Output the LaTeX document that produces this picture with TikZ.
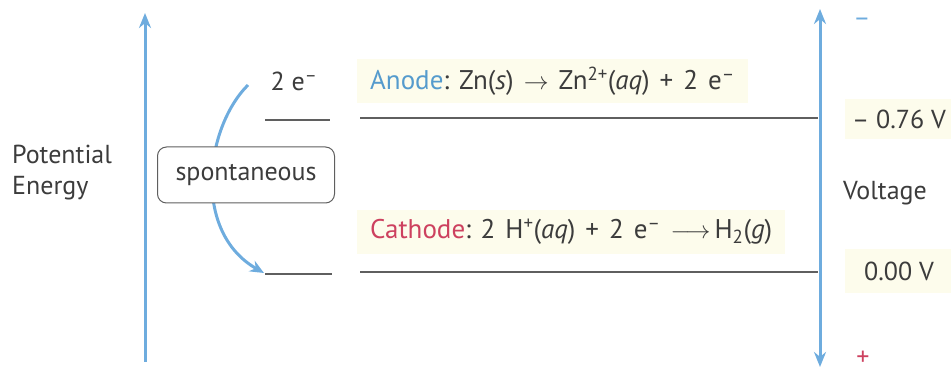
\documentclass[tikz,border=0pt]{standalone}
\usepackage{fontspec}
\setmainfont{PT Sans}
\usetikzlibrary{arrows.meta}
\definecolor{axisblue}{RGB}{110,172,222}
\definecolor{txtgray}{RGB}{60,60,60}
\definecolor{linegray}{RGB}{95,95,95}
\definecolor{anodeblue}{RGB}{85,155,205}
\definecolor{cathred}{RGB}{205,65,95}
\definecolor{paleyellow}{RGB}{253,252,236}
\tikzset{
  axis/.style={draw=axisblue, line width=3pt},
  level/.style={draw=linegray, line width=1.4pt},
  hilite/.style={fill=paleyellow, inner xsep=13pt, minimum height=44pt, font=\fontsize{27}{31}\selectfont},
  tagbox/.style={draw=linegray, line width=1pt, fill=white, rounded corners=9pt, minimum width=177pt, minimum height=56pt},
  bigtip/.tip={Stealth[length=15pt,width=12pt]}
}
\newcommand{\sub}[1]{\textsubscript{#1}}
\newcommand{\sps}[1]{\textsuperscript{#1}}
\newcommand{\gp}{\hspace{10pt}}
\begin{document}
\begin{tikzpicture}[x=1pt,y=-1pt, font=\fontsize{26}{31}\selectfont, text=txtgray]
\useasboundingbox (0,0) rectangle (951,371);
% highlight boxes with equations
\node[hilite, anchor=west] (anode) at (357,81) {\textcolor{anodeblue}{Anode}: Zn(\textit{s})\gp$\rightarrow$\gp{}Zn\sps{2+}(\textit{aq})\gp{}+\gp{}2\gp{}e\sps{–}};
\node[hilite, anchor=west] (cathode) at (357,232) {\textcolor{cathred}{Cathode}: 2\gp{}H\sps{+}(\textit{aq})\gp{}+\gp{}2\gp{}e\sps{–}\gp$\longrightarrow$\hspace{4pt}H\sub{2}(\textit{g})};
\node[fill=paleyellow, minimum width=108pt, minimum height=40pt] (v1) at (899,119) {– 0.76 V};
\node[fill=paleyellow, minimum width=108pt, minimum height=44pt] (v2) at (899,271) {0.00 V};
\node (volt) at (885,193) {Voltage};
\node[text=axisblue] (minus) at (862,22) {–};
\node[text=cathred] (plus) at (863,358) {+};
% left text
\node[anchor=west, align=left, inner sep=0pt] (pe) at (12,173) {Potential\\Energy};
% axes
\coordinate (lb) at (145,362);
\coordinate (lt) at (145,13);
\draw[axis, -{bigtip}] (lb) -- (lt);
\coordinate (rb) at (820,367);
\coordinate (rt) at (820,9);
\draw[axis, {bigtip}-{bigtip}] (rb) -- (rt);
% levels
\coordinate (a1) at (265,120); \coordinate (a2) at (330,120);
\coordinate (a3) at (360,118); \coordinate (a4) at (818,118);
\coordinate (c1) at (265,274); \coordinate (c2) at (332,274);
\coordinate (c3) at (360,272); \coordinate (c4) at (818,272);
\draw[level] (a1) -- (a2);
\draw[level] (a3) -- (a4);
\draw[level] (c1) -- (c2);
\draw[level] (c3) -- (c4);
% electrons
\node (el) at (294,81) {2 e\sps{–}};
\coordinate (cs) at (248,85);
\coordinate (ce) at (264,273);
\draw[axisblue, line width=3pt, -{Stealth[length=14pt,width=12pt]}] (cs) .. controls (205,128) and (192,232) .. (ce);
\node[tagbox] (spont) at (246,175) {spontaneous};
\end{tikzpicture}
\end{document}
